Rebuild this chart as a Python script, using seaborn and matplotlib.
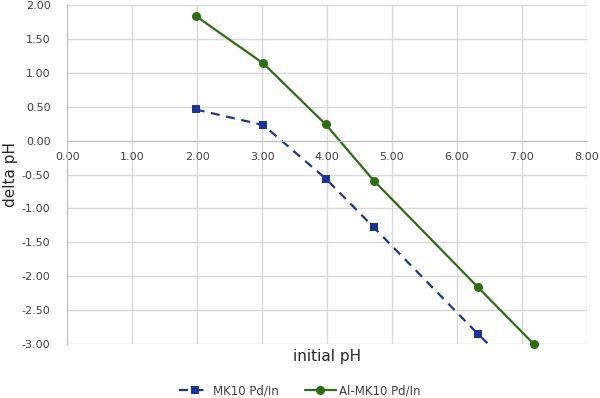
import matplotlib
matplotlib.use("Agg")
import matplotlib.pyplot as plt
import numpy as np
import pandas as pd
import seaborn as sns

# values
mk10_x = [1.98, 3.02, 3.98, 4.72, 6.32, 7.18]
mk10_y = [0.46, 0.23, -0.56, -1.28, -2.85, -3.65]
al_x = [1.98, 3.02, 3.98, 4.72, 6.32, 7.18]
al_y = [1.84, 1.14, 0.24, -0.59, -2.16, -3.00]

x_ticks = np.arange(0, 8.01, 1.0)
y_ticks = np.arange(-3, 2.01, 0.5)

sns.set_style("white")
plt.rcParams['font.family'] = ['DejaVu Sans']

fig = plt.figure(figsize=(6, 3.98), dpi=100)
ax = fig.add_axes([0.112, 0.136, 0.866, 0.851])

blue = "#1c3497"
green = "#2d6e12"

sns.lineplot(x=mk10_x, y=mk10_y, ax=ax, color=blue, marker="s", markersize=6,
             markeredgewidth=0, linewidth=1.6, linestyle=(0, (4, 3)),
             sort=False, estimator=None, label="MK10 Pd/In")
sns.lineplot(x=al_x, y=al_y, ax=ax, color=green, marker="o", markersize=6.5,
             markeredgewidth=0, linewidth=1.6, sort=False, estimator=None,
             label="Al-MK10 Pd/In")
# last green point sits on the bottom edge; keep its marker whole
ax.lines[-1].set_clip_on(False)

ax.set_xlim(0, 8)
ax.set_ylim(-3, 2)
ax.set_xticks(x_ticks)
ax.set_yticks(y_ticks)
ax.set_xticklabels([f"{v:.2f}" for v in x_ticks])
ax.set_yticklabels([f"{v:.2f}" for v in y_ticks])
ax.grid(True, color="#d9d9d9", linewidth=1.0)
for sp in ["top", "right"]:
    ax.spines[sp].set_visible(False)
ax.spines["bottom"].set_position(("data", 0))
ax.spines["bottom"].set_color("#bfbfbf")
ax.spines["left"].set_color("#bfbfbf")
ax.tick_params(length=0, labelsize=8, colors="#404040")
ax.tick_params(axis="y", pad=12)
ax.tick_params(axis="x", pad=8)

ax.set_xlabel("")
ax.set_ylabel("")
fig.text(0.017, 0.562, "delta pH", rotation=90, ha="center", va="center",
         fontsize=11, color="#262626")
fig.text(0.545, 0.105, "initial pH", ha="center", va="center", fontsize=11,
         color="#262626")

handles, labels = ax.get_legend_handles_labels()
ax.get_legend().remove()
fig.legend(handles, labels, loc="lower center", bbox_to_anchor=(0.5, -0.025),
           ncol=2, frameon=False, fontsize=8.5, handlelength=2.6,
           handletextpad=0.3, columnspacing=2.2, labelcolor="#404040")

fig.savefig("out.png", dpi=100)
